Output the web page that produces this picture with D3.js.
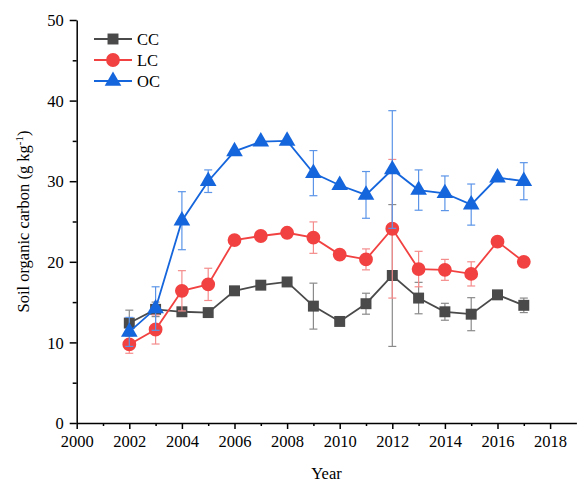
<!DOCTYPE html>
<html>
<head>
<meta charset="utf-8">
<script src="https://cdn.jsdelivr.net/npm/d3@7"></script>
<style>
  html, body { margin: 0; padding: 0; background: #fff; }
  svg { display: block; }
  svg text { font-family: "Liberation Serif", "Times New Roman", serif; fill: #000; }
</style>
</head>
<body>
<svg id="chart" width="578" height="484"></svg>
<script>
// Soil organic carbon by year for three cropping systems (mean ± error)
const years = [2002, 2003, 2004, 2005, 2006, 2007, 2008, 2009, 2010, 2011, 2012, 2013, 2014, 2015, 2016, 2017];

const ccMean = [12.4, 14.1, 13.8, 13.7, 16.4, 17.1, 17.5, 14.5, 12.6, 14.8, 18.3, 15.5, 13.8, 13.5, 15.9, 14.6];
const ccErr  = [1.6, 0.9, 0, 0, 0, 0, 0, 2.85, 0, 1.3, 8.8, 1.95, 1.05, 2.05, 0, 0.9];

const lcMean = [9.75, 11.6, 16.4, 17.2, 22.7, 23.2, 23.6, 23.0, 20.9, 20.3, 24.1, 19.1, 19.0, 18.5, 22.5, 20.0];
const lcErr  = [1.1, 1.8, 2.5, 2.0, 0, 0, 0, 1.95, 0, 1.3, 8.6, 2.2, 1.3, 1.5, 0, 0];

const ocMean = [11.3, 14.2, 25.1, 30.0, 33.7, 34.9, 35.0, 31.0, 29.5, 28.3, 31.45, 28.9, 28.5, 27.1, 30.45, 30.0];
const ocErr  = [1.8, 2.7, 3.6, 1.4, 0, 0, 0, 2.8, 0, 2.9, 7.3, 2.5, 2.15, 2.55, 0, 2.3];

const seriesNames = ["CC", "LC", "OC"];
const xMajorTicks = [2000, 2002, 2004, 2006, 2008, 2010, 2012, 2014, 2016, 2018];
const xMinorTicks = [2001, 2003, 2005, 2007, 2009, 2011, 2013, 2015, 2017];
const yMajorTicks = [0, 10, 20, 30, 40, 50];
const yMinorTicks = [5, 15, 25, 35, 45];

const svg = d3.select("#chart");

const x = d3.scaleLinear().domain([2000, 2019]).range([76.7, 576.4]);
const y = d3.scaleLinear().domain([0, 50]).range([423, 20]);

const styles = {
  CC: { color: "#4a4a4a", err: "#8a8a8a", symbol: d3.symbolSquare, size: 120 },
  LC: { color: "#f24141", err: "#f58c8c", symbol: d3.symbolCircle, size: 150 },
  OC: { color: "#1565dc", err: "#5c95e8", symbol: d3.symbolTriangle, size: 120 }
};

const series = [
  { name: "CC", mean: ccMean, err: ccErr },
  { name: "LC", mean: lcMean, err: lcErr },
  { name: "OC", mean: ocMean, err: ocErr }
];

const serif = "'Liberation Serif', 'Times New Roman', serif";
const x0 = x.range()[0];
const yBase = y(0);

// bottom axis
const xAxis = svg.append("g").attr("transform", `translate(0,${yBase})`)
  .call(d3.axisBottom(x).tickValues(xMajorTicks).tickFormat(d3.format("d")).tickSize(6).tickSizeOuter(0));
const xMinor = svg.append("g").attr("transform", `translate(0,${yBase})`)
  .call(d3.axisBottom(x).tickValues(xMinorTicks).tickFormat("").tickSize(3).tickSizeOuter(0));
xMinor.select(".domain").remove();

// left axis
const yAxis = svg.append("g").attr("transform", `translate(${x0},0)`)
  .call(d3.axisLeft(y).tickValues(yMajorTicks).tickFormat(d3.format("d")).tickSize(7).tickSizeOuter(0));
const yMinor = svg.append("g").attr("transform", `translate(${x0},0)`)
  .call(d3.axisLeft(y).tickValues(yMinorTicks).tickFormat("").tickSize(4).tickSizeOuter(0));
yMinor.select(".domain").remove();

[xAxis, xMinor, yAxis, yMinor].forEach(a => a.attr("font-family", null).attr("font-size", null));

svg.selectAll(".domain").attr("stroke", "#000").attr("stroke-width", 1.5);
svg.selectAll(".tick line").attr("stroke", "#000").attr("stroke-width", 1.5);
xAxis.selectAll(".tick text")
  .style("font-family", serif).style("font-size", "16.5px")
  .attr("fill", "#000").attr("dy", null).attr("y", 24);
yAxis.selectAll(".tick text")
  .style("font-family", serif).style("font-size", "16.5px")
  .attr("fill", "#000").attr("x", -13).attr("dy", "0.34em");

// axis titles
svg.append("text")
  .attr("x", (x.range()[0] + x.range()[1]) / 2)
  .attr("y", 479)
  .attr("text-anchor", "middle")
  .style("font-family", serif).style("font-size", "16.5px")
  .text("Year");

const yTitle = svg.append("text")
  .attr("transform", `translate(29,${(y(0) + y(50)) / 2}) rotate(-90)`)
  .attr("text-anchor", "middle")
  .style("font-family", serif).style("font-size", "16.5px");
yTitle.append("tspan").text("Soil organic carbon (g kg");
yTitle.append("tspan").style("font-size", "11px").attr("dy", -6).text("-1");
yTitle.append("tspan").attr("dy", 6).text(")");

// ---- data series ----
const line = d3.line().x(d => x(d.year)).y(d => y(d.value));
const capHalf = 4;

series.forEach(s => {
  const st = styles[s.name];
  const pts = years.map((yr, i) => ({ year: yr, value: s.mean[i], err: s.err[i] }));
  const g = svg.append("g");

  // error bars
  const eb = g.append("g").attr("stroke", st.err).attr("stroke-width", 1.2).attr("fill", "none");
  pts.filter(d => d.err > 0).forEach(d => {
    const cx = x(d.year);
    const top = y(d.value + d.err), bot = y(d.value - d.err);
    eb.append("line").attr("x1", cx).attr("x2", cx).attr("y1", top).attr("y2", bot);
    eb.append("line").attr("x1", cx - capHalf).attr("x2", cx + capHalf).attr("y1", top).attr("y2", top);
    eb.append("line").attr("x1", cx - capHalf).attr("x2", cx + capHalf).attr("y1", bot).attr("y2", bot);
  });

  // connecting line
  g.append("path").datum(pts)
    .attr("d", line)
    .attr("fill", "none")
    .attr("stroke", st.color)
    .attr("stroke-width", 1.8);

  // markers
  const sym = d3.symbol().type(st.symbol).size(st.size);
  g.selectAll("path.marker").data(pts).join("path")
    .attr("class", "marker")
    .attr("d", sym)
    .attr("transform", d => `translate(${x(d.year)},${y(d.value)})`)
    .attr("fill", st.color);
});

// ---- legend ----
const legend = svg.append("g");
seriesNames.forEach((name, i) => {
  const st = styles[name];
  const ly = 39 + i * 21;
  legend.append("line")
    .attr("x1", 94).attr("x2", 132).attr("y1", ly).attr("y2", ly)
    .attr("stroke", st.color).attr("stroke-width", 1.8);
  legend.append("path")
    .attr("d", d3.symbol().type(st.symbol).size(st.size)())
    .attr("transform", `translate(113,${ly})`)
    .attr("fill", st.color);
  legend.append("text")
    .attr("x", 137).attr("y", ly).attr("dy", "0.35em")
    .style("font-family", serif).style("font-size", "16.5px")
    .text(name);
});
</script>
</body>
</html>
